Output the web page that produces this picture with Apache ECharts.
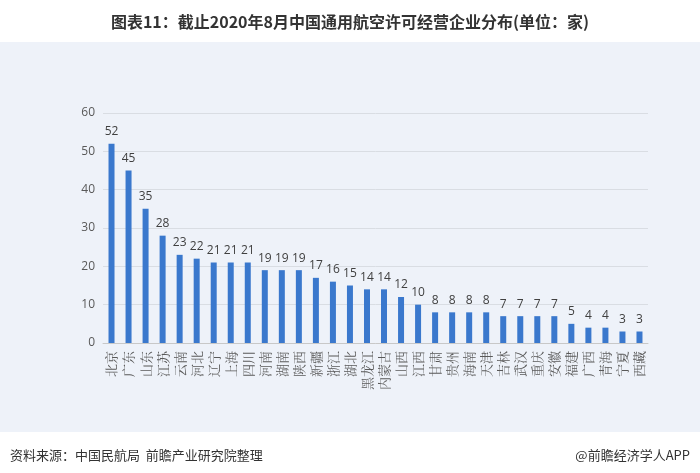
<!DOCTYPE html>
<html><head><meta charset="utf-8">
<script src="https://cdn.jsdelivr.net/npm/echarts@6/dist/echarts.min.js"></script>
<style>html,body{margin:0;padding:0;background:#fff}#c{width:700px;height:473px}</style>
</head><body><div id="c"></div>
<script>
const categories = ['北京','广东','山东','江苏','云南','河北','辽宁','上海','四川','河南','湖南','陕西','新疆','浙江','湖北','黑龙江','内蒙古','山西','江西','甘肃','贵州','海南','天津','吉林','武汉','重庆','安徽','福建','广西','青海','宁夏','西藏'];
const values = [52,45,35,28,23,22,21,21,21,19,19,19,17,16,15,14,14,12,10,8,8,8,8,7,7,7,7,5,4,4,3,3];
const yTicks = [0,10,20,30,40,50,60];

const chart = echarts.init(document.getElementById('c'));
chart.setOption({
  backgroundColor: '#ffffff',
  animation: false,
  graphic: [
    {type:'rect', shape:{x:0,y:42,width:700,height:390}, style:{fill:'#eef2f9'}, z:-10, silent:true}
  ],
  title: [
    {text:'图表11：截止2020年8月中国通用航空许可经营企业分布(单位：家)', left:'center', top:9,
     textStyle:{fontFamily:'Noto Sans CJK SC', fontWeight:'bold', fontSize:16, color:'#333333'}},
    {text:'资料来源：中国民航局  前瞻产业研究院整理', left:5, top:444,
     textStyle:{fontFamily:'Noto Sans CJK SC', fontWeight:'normal', fontSize:13, color:'#333333'}},
    {text:'@前瞻经济学人APP', right:5, top:444,
     textStyle:{fontFamily:'Noto Sans CJK SC', fontWeight:'normal', fontSize:13, color:'#333333'}}
  ],
  grid: {left:103, right:52, top:113, bottom:130, containLabel:false},
  xAxis: {
    type:'category', data:categories,
    axisTick:{show:false},
    axisLine:{lineStyle:{color:'#c8c8c8'}},
    axisLabel:{interval:0, rotate:90, margin:8, color:'#595959', fontSize:13,
      fontFamily:'Noto Serif CJK SC, Noto Sans CJK SC'}
  },
  yAxis: {
    type:'value', min:yTicks[0], max:yTicks[yTicks.length-1], interval:10,
    axisLine:{show:false}, axisTick:{show:false},
    axisLabel:{color:'#595959', fontSize:12, margin:8, fontFamily:'Open Sans'},
    splitLine:{lineStyle:{color:'#d9dde3'}}
  },
  series: [{
    type:'bar', data:values, barWidth:6,
    itemStyle:{color:'#3a78cd'},
    label:{show:true, position:'top', distance:6, color:'#404040', fontSize:12, fontFamily:'Open Sans'}
  }]
});
</script></body></html>
